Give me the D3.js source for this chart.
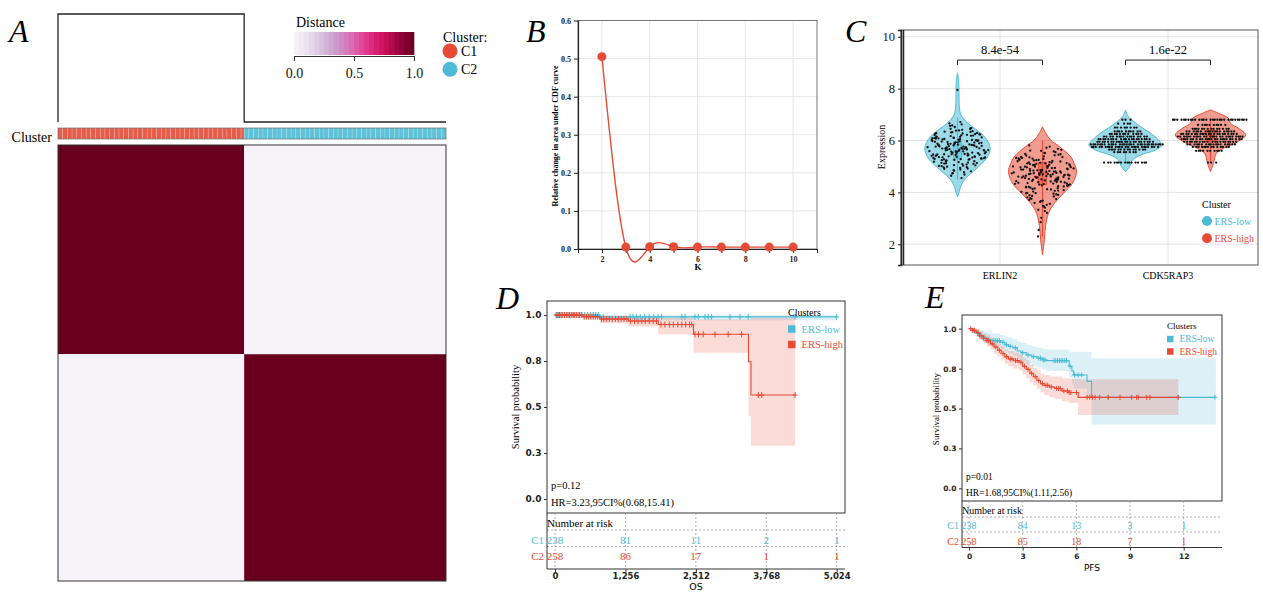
<!DOCTYPE html>
<html>
<head>
<meta charset="utf-8">
<script src="https://cdn.jsdelivr.net/npm/d3@7"></script>
<style>
  body { margin: 0; background: #fff; }
  svg { display: block; }
</style>
</head>
<body>
<svg id="fig" width="1263" height="592"></svg>
<script>
// ---- Panel A: consensus matrix ----
const clusterNames = ['C1', 'C2'];
const clusterSizes = [238, 258];
const consensusBlocks = [[1, 0], [0, 1]];
const distanceTicks = [0, 0.5, 1];

// ---- Panel B: delta area ----
const kValues = [2, 3, 4, 5, 6, 7, 8, 9, 10];
const deltaArea = [0.505, 0.005, 0.006, 0.006, 0.005, 0.005, 0.005, 0.005, 0.005];

// ---- Panel C: violins ----
const genes = ['ERLIN2', 'CDK5RAP3'];
const groups = ['ERS-low', 'ERS-high'];
const pLabels = ['8.4e-54', '1.6e-22'];

const erlinLowProfileV = [3.83, 4.0, 4.2, 4.5, 4.85, 5.1, 5.3, 5.6, 5.85, 6.1, 6.35, 6.55, 6.75, 7.0, 7.3, 7.8, 8.3, 8.61];
const erlinLowProfileW = [0, 0.04, 0.08, 0.19, 0.46, 0.65, 0.78, 0.88, 0.86, 0.76, 0.57, 0.38, 0.22, 0.09, 0.05, 0.04, 0.03, 0];
const erlinHighProfileV = [1.59, 2.17, 2.68, 3.19, 3.58, 3.97, 4.35, 4.8, 5.1, 5.38, 5.76, 6.02, 6.3, 6.53];
const erlinHighProfileW = [0, 0.05, 0.08, 0.16, 0.32, 0.57, 0.81, 0.92, 0.86, 0.76, 0.46, 0.22, 0.08, 0];
const cdkLowProfileV = [4.8, 4.99, 5.25, 5.44, 5.63, 5.83, 6.02, 6.28, 6.53, 6.92, 7.18];
const cdkLowProfileW = [0, 0.11, 0.19, 0.41, 0.81, 0.99, 0.89, 0.68, 0.41, 0.08, 0];
const cdkHighProfileV = [4.8, 5.12, 5.51, 5.7, 5.95, 6.21, 6.47, 6.66, 6.85, 7.05, 7.18];
const cdkHighProfileW = [0, 0.08, 0.16, 0.35, 0.73, 0.95, 0.76, 0.54, 0.49, 0.22, 0];

// whiskerLow, q1, median, q3, whiskerHigh
const erlinLowBox = [4.5, 5.3, 5.6, 5.95, 6.9];
const erlinHighBox = [2.3, 4.3, 4.75, 5.15, 6.0];
const cdkLowBox = [5.15, 5.7, 5.85, 6.0, 6.55];
const cdkHighBox = [5.15, 5.95, 6.2, 6.4, 6.85];

const erlin2Low = [
  5.62, 5.31, 6.05, 5.88, 4.92, 5.47, 6.21, 5.73, 5.12, 6.44, 5.56, 5.95, 4.78, 5.39, 6.12, 5.68, 5.24, 6.33, 5.81, 5.02,
  5.49, 6.58, 5.91, 5.17, 5.76, 6.02, 4.86, 5.63, 6.27, 5.35, 5.99, 5.44, 6.15, 5.07, 5.71, 6.48, 5.28, 5.84, 4.69, 5.53,
  6.09, 5.66, 5.19, 6.36, 5.93, 5.41, 4.97, 5.78, 6.24, 5.58, 5.11, 6.01, 5.86, 5.33, 6.62, 5.69, 5.04, 5.97, 5.46, 6.18,
  4.83, 5.74, 6.41, 5.27, 5.89, 5.52, 6.07, 5.15, 5.64, 6.29, 4.94, 5.82, 5.37, 6.11, 5.59, 6.71, 5.22, 5.79, 6.03, 5.43,
  4.55, 5.67, 6.23, 5.09, 5.96, 5.51, 6.38, 5.29, 5.85, 4.74, 5.61, 6.14, 5.36, 5.92, 6.52, 5.18, 5.72, 6.06, 5.45, 7.95,
  5.01, 5.83, 6.31, 5.55, 4.88, 5.77, 6.19, 5.25, 5.98, 5.42, 6.45, 5.13, 5.65, 6.08, 5.34, 5.87, 6.26, 5.48, 4.99, 5.70,
  5.58, 6.13, 5.26, 5.94, 4.81, 5.71, 6.34, 5.39, 5.05, 6.02, 5.66, 5.47, 6.25, 5.84, 4.91, 5.53, 6.17, 5.32, 5.76, 6.56,
  5.20, 5.90, 6.09, 5.44, 4.73, 5.63, 6.39, 5.14, 5.80, 5.57, 6.28, 5.03, 5.69, 6.00, 5.37, 6.66, 5.28, 5.86, 5.50, 6.20,
  4.64, 5.75, 6.10, 5.41, 5.97, 5.23, 6.47, 5.60, 4.96, 5.82, 6.32, 5.35, 5.68, 6.04, 5.10, 5.93, 5.46, 6.22, 5.73, 5.30
];
const erlin2High = [
  4.72, 4.35, 5.12, 4.88, 3.95, 4.56, 5.33, 4.61, 4.18, 5.47, 4.83, 3.78, 4.49, 5.05, 4.27, 4.95, 5.61, 4.41, 3.66, 4.77,
  5.21, 4.13, 4.68, 5.39, 3.89, 4.52, 4.99, 4.31, 5.72, 4.64, 4.07, 4.86, 5.26, 3.52, 4.44, 5.08, 4.79, 4.21, 5.55, 4.58,
  3.71, 4.93, 5.16, 4.38, 4.69, 3.98, 5.43, 4.84, 4.25, 5.02, 4.55, 3.84, 4.73, 5.31, 4.11, 4.90, 5.68, 4.46, 3.59, 4.81,
  5.24, 4.33, 4.66, 5.11, 3.92, 4.50, 5.37, 4.75, 4.15, 4.97, 3.45, 4.62, 5.19, 4.39, 5.81, 4.70, 4.03, 4.89, 5.29, 3.75,
  4.47, 5.06, 4.28, 4.82, 3.33, 4.59, 5.14, 4.37, 4.94, 2.85, 4.65, 5.51, 4.19, 4.76, 3.63, 5.00, 4.42, 5.35, 3.21, 4.87,
  2.55, 4.54, 5.23, 4.09, 4.71, 3.86, 5.45, 4.30, 2.30, 4.80, 5.09, 4.23, 3.48, 4.96, 5.58, 4.60, 4.02, 5.17, 4.36, 4.67,
  4.78, 5.27, 4.45, 3.97, 5.04, 4.63, 5.42, 4.24, 4.85, 3.81, 5.15, 4.52, 4.91, 3.68, 5.33, 4.40, 4.74, 5.64, 4.12, 4.99,
  3.56, 4.68, 5.20, 4.34, 4.83, 3.90, 5.52, 4.57, 4.06, 5.10, 4.73, 3.41, 4.96, 5.36, 4.27, 4.61, 5.76, 4.49, 3.74, 5.01,
  4.88, 4.16, 5.25, 4.43, 3.28, 4.70, 5.13, 4.32, 5.48, 4.58, 3.02, 4.92, 5.07, 4.21, 4.66, 5.60, 3.96, 4.80, 5.30, 4.53
];
const cdkLowLevels = [5.15, 5.55, 5.65, 5.75, 5.85, 5.95, 6.05, 6.15, 6.25, 6.35, 6.5, 6.65, 6.8];
const cdkLowCounts = [16, 8, 14, 26, 30, 22, 20, 16, 12, 10, 8, 4, 3];
const cdkHighLevels = [5.15, 5.6, 5.75, 5.85, 5.95, 6.05, 6.15, 6.25, 6.35, 6.45, 6.6, 6.8];
const cdkHighCounts = [3, 10, 14, 18, 20, 24, 26, 22, 18, 14, 10, 30];

// ---- Panel D: OS Kaplan-Meier ----
const osLowTime = [0, 800, 5024];
const osLowSurv = [1, 0.99, 0.99];
const osLowLower = [1, 0.972, 0.972];
const osLowUpper = [1, 1, 1];
const osLowCensor = [30, 60, 90, 130, 170, 210, 250, 290, 330, 380, 430, 480, 530, 580, 630, 680, 730, 780, 860, 1340, 1390,
  1450, 1520, 1600, 1680, 1760, 1840, 1900, 2261, 2320, 2496, 2556, 2675, 2734, 2793, 3120, 3298, 3446, 4282, 5024];
const osHighTime = [0, 500, 800, 1310, 1840, 2470, 3450, 3495, 4282];
const osHighSurv = [1, 0.991, 0.978, 0.967, 0.948, 0.895, 0.746, 0.565, 0.565];
const osHighLower = [1, 0.975, 0.955, 0.937, 0.895, 0.795, 0.45, 0.29, 0.29];
const osHighUpper = [1, 1, 0.995, 0.99, 0.985, 0.975, 0.975, 0.985, 0.985];
const osHighCensor = [20, 50, 80, 110, 140, 170, 200, 230, 260, 290, 320, 350, 380, 410, 440, 470, 520, 560, 600, 640, 680,
  720, 760, 830, 870, 920, 970, 1020, 1080, 1130, 1180, 1230, 1280, 1350, 1420, 1480, 1550, 1610, 1680, 1750, 1810, 1890,
  1960, 2040, 2110, 2190, 2261, 2330, 2400, 2439, 2496, 2560, 2643, 2853, 3089, 3327, 3627, 3687, 4282];
const osRiskTicks = [0, 1256, 2512, 3768, 5024];
const osRiskC1 = [238, 81, 11, 2, 1];
const osRiskC2 = [258, 86, 17, 1, 1];

// ---- Panel E: PFS Kaplan-Meier ----
const pfsLowTime = [0, 0.25, 0.45, 0.65, 0.85, 1.05, 1.3, 1.75, 2.0, 2.2, 2.45, 2.7, 2.9, 3.2, 3.5, 3.8, 4.1, 4.3, 5.6, 5.75, 5.85, 6.6, 6.85, 13.8];
const pfsLowSurv = [1, 0.985, 0.97, 0.955, 0.94, 0.93, 0.925, 0.915, 0.9, 0.89, 0.88, 0.86, 0.85, 0.835, 0.825, 0.815, 0.805, 0.8, 0.765, 0.735, 0.71, 0.67, 0.57, 0.57];
const pfsLowUpper = [1, 1, 0.995, 0.99, 0.98, 0.975, 0.97, 0.96, 0.95, 0.945, 0.935, 0.92, 0.91, 0.9, 0.89, 0.88, 0.875, 0.87, 0.855, 0.855, 0.855, 0.855, 0.815, 0.815];
const pfsLowLower = [1, 0.97, 0.95, 0.93, 0.91, 0.895, 0.89, 0.875, 0.86, 0.845, 0.83, 0.81, 0.795, 0.78, 0.765, 0.755, 0.745, 0.735, 0.69, 0.655, 0.625, 0.575, 0.4, 0.4];
const pfsLowCensor = [0.3, 0.5, 0.7, 0.9, 1.1, 1.4, 1.5, 1.6, 1.7, 1.9, 2.1, 2.3, 2.6, 3.0, 3.3, 3.6, 3.9, 4.0, 4.15, 4.25, 4.75,
  4.85, 4.95, 5.05, 5.15, 5.25, 5.35, 5.45, 5.65, 5.9, 6.1, 6.3, 7.78, 11.69, 13.74];
const pfsHighTime = [0, 0.2, 0.4, 0.6, 0.8, 1.0, 1.2, 1.4, 1.6, 1.8, 2.0, 2.2, 2.5, 2.8, 3.0, 3.2, 3.4, 3.6, 3.8, 4.0, 4.2, 4.5, 4.8, 5.2, 5.6, 6.1, 11.7];
const pfsHighSurv = [1, 0.99, 0.975, 0.955, 0.94, 0.925, 0.905, 0.885, 0.865, 0.845, 0.825, 0.81, 0.8, 0.79, 0.765, 0.745, 0.72, 0.7, 0.675, 0.655, 0.645, 0.635, 0.625, 0.61, 0.6, 0.57, 0.57];
const pfsHighUpper = [1, 1, 1, 0.985, 0.97, 0.96, 0.945, 0.925, 0.905, 0.89, 0.87, 0.86, 0.85, 0.84, 0.815, 0.8, 0.775, 0.755, 0.74, 0.72, 0.71, 0.7, 0.7, 0.69, 0.685, 0.683, 0.683];
const pfsHighLower = [1, 0.975, 0.955, 0.93, 0.91, 0.89, 0.87, 0.845, 0.825, 0.8, 0.78, 0.765, 0.75, 0.74, 0.715, 0.69, 0.665, 0.645, 0.62, 0.6, 0.585, 0.57, 0.56, 0.545, 0.535, 0.459, 0.459];
const pfsHighCensor = [0.1, 0.2, 0.3, 0.5, 0.6, 0.8, 1.0, 1.1, 1.3, 1.5, 1.7, 1.9, 2.1, 2.3, 2.4, 2.6, 2.7, 2.9, 3.1, 3.3, 3.5,
  3.7, 3.9, 4.1, 4.3, 4.4, 4.6, 4.9, 5.0, 5.1, 5.3, 5.5, 5.6, 5.7, 6.0, 6.6, 6.75, 6.9, 7.05, 7.3, 7.78, 8.44, 9.09, 9.37,
  9.46, 9.93, 10.11, 11.69];
const pfsRiskTicks = [0, 3, 6, 9, 12];
const pfsRiskC1 = [238, 84, 13, 3, 1];
const pfsRiskC2 = [258, 85, 18, 7, 1];

// ---------------------------------------------------------------
const RED = '#E64B35';
const BLUE = '#4DBBD5';
const SERIF = '"Liberation Serif", "Times New Roman", serif';
const DEJAVU = '"DejaVu Sans", sans-serif';

const svg = d3.select('#fig');
svg.append('rect').attr('width', 1263).attr('height', 592).attr('fill', '#fff');

// panel letters
[['A', 9, 42], ['B', 526, 42], ['C', 845, 42], ['D', 496, 309], ['E', 925, 308]].forEach(([t, x, y]) => {
  svg.append('text').attr('x', x).attr('y', y)
    .attr('font-family', SERIF).attr('font-style', 'italic').attr('font-size', 32)
    .text(t);
});

// ================= Panel A =================
(function drawA() {
  const g = svg.append('g');
  const total = d3.sum(clusterSizes);
  const offsets = [0, ...d3.cumsum(clusterSizes)];
  const x = d3.scaleLinear().domain([0, total]).range([58, 446]);
  const y = d3.scaleLinear().domain([0, total]).range([145, 581]);
  const h = d3.scaleLinear().domain([0, 1]).range([122, 14]);
  const color = d3.scaleSequential(d3.interpolatePuRd).domain([0, 1]);
  const clusterColor = d3.scaleOrdinal().domain(clusterNames).range([RED, BLUE]);

  const cells = [];
  consensusBlocks.forEach((row, i) => row.forEach((v, j) => cells.push({ i, j, v })));
  g.selectAll('rect.hm').data(cells).join('rect')
    .attr('x', d => x(offsets[d.j]))
    .attr('y', d => y(offsets[d.i]))
    .attr('width', d => x(offsets[d.j + 1]) - x(offsets[d.j]))
    .attr('height', d => y(offsets[d.i + 1]) - y(offsets[d.i]))
    .attr('fill', d => color(d.v));
  g.append('rect').attr('x', 58).attr('y', 145).attr('width', 388).attr('height', 436)
    .attr('fill', 'none').attr('stroke', '#333').attr('stroke-width', 1);

  // annotation bar
  const step = 6;
  const bar = [];
  clusterNames.forEach((c, k) => {
    d3.range(offsets[k], offsets[k + 1], step).forEach(s => bar.push({ c, s, e: Math.min(s + step, offsets[k + 1]) }));
  });
  g.selectAll('rect.ann').data(bar).join('rect')
    .attr('x', d => x(d.s)).attr('y', 128)
    .attr('width', d => x(d.e) - x(d.s)).attr('height', 11)
    .attr('fill', d => clusterColor(d.c))
    .attr('fill-opacity', 0.9)
    .attr('stroke', 'rgba(255,255,255,0.3)').attr('stroke-width', 0.6);
  g.append('rect').attr('x', 58).attr('y', 128).attr('width', 388).attr('height', 11)
    .attr('fill', 'none').attr('stroke', '#555').attr('stroke-width', 0.6);
  g.append('text').attr('x', 52).attr('y', 142).attr('text-anchor', 'end')
    .attr('font-family', SERIF).attr('font-size', 14).text('Cluster');

  // dendrogram
  g.append('path')
    .attr('d', `M${x(0)},${h(0)}V${h(1)}H${x(clusterSizes[0])}V${h(0)}H${x(total)}`)
    .attr('fill', 'none').attr('stroke', '#222').attr('stroke-width', 1.3);

  // distance legend
  const lx = d3.scaleLinear().domain([0, 1]).range([294, 414]);
  const nSteps = 24;
  g.selectAll('rect.leg').data(d3.range(nSteps)).join('rect')
    .attr('x', i => lx(i / nSteps)).attr('y', 32)
    .attr('width', lx(1 / nSteps) - lx(0) + 0.3).attr('height', 23)
    .attr('fill', i => color((i + 0.5) / nSteps));
  g.append('text').attr('x', 296).attr('y', 27).attr('font-family', SERIF).attr('font-size', 14).text('Distance');
  const ax = g.append('g').attr('transform', 'translate(0,56)')
    .call(d3.axisBottom(lx).tickValues(distanceTicks).tickFormat(d3.format('.1f')).tickSize(5).tickSizeOuter(0));
  ax.select('.domain').attr('stroke', '#333');
  ax.selectAll('line').attr('stroke', '#333');
  ax.selectAll('text').attr('font-family', SERIF).attr('font-size', 14).attr('fill', '#111').attr('dy', '1em');

  // cluster legend
  g.append('text').attr('x', 443).attr('y', 42).attr('font-family', SERIF).attr('font-size', 14).text('Cluster:');
  clusterNames.forEach((c, k) => {
    const cy = 51 + k * 18.3;
    g.append('circle').attr('cx', 450).attr('cy', cy).attr('r', 7.5).attr('fill', clusterColor(c));
    g.append('text').attr('x', 461).attr('y', cy + 5).attr('font-family', SERIF).attr('font-size', 14).text(c);
  });
})();

// ================= Panel B =================
(function drawB() {
  const g = svg.append('g');
  const x = d3.scaleLinear().domain([1, 11]).range([578, 817]);
  const y = d3.scaleLinear().domain([0, 0.6]).range([249, 20.5]);

  g.selectAll('line.gx').data([2, 4, 6, 8, 10]).join('line')
    .attr('x1', d => x(d)).attr('x2', d => x(d)).attr('y1', 20.5).attr('y2', 249)
    .attr('stroke', '#e6e6e6');
  g.selectAll('line.gy').data([0.1, 0.2, 0.3, 0.4, 0.5]).join('line')
    .attr('x1', 578).attr('x2', 817).attr('y1', d => y(d)).attr('y2', d => y(d))
    .attr('stroke', '#e6e6e6');
  g.append('rect').attr('x', 578).attr('y', 20.5).attr('width', 239).attr('height', 228.5)
    .attr('fill', 'none').attr('stroke', '#555').attr('stroke-width', 0.8);

  const xa = g.append('g').attr('transform', 'translate(0,249)')
    .call(d3.axisBottom(x).tickValues(d3.range(1, 12)).tickFormat(d => d % 2 === 0 ? d : '').tickSize(4).tickSizeOuter(0));
  const ya = g.append('g').attr('transform', 'translate(578,0)')
    .call(d3.axisLeft(y).ticks(6).tickFormat(d3.format('.1f')).tickSize(4).tickSizeOuter(0));
  [xa, ya].forEach(a => {
    a.select('.domain').attr('stroke', '#222').attr('stroke-width', 1.2);
    a.selectAll('line').attr('stroke', '#222');
    a.selectAll('text').attr('font-family', SERIF).attr('font-weight', 'bold').attr('font-size', 8).attr('fill', '#222');
  });

  const pts = kValues.map((k, i) => ({ k, v: deltaArea[i] }));
  g.append('path').datum(pts)
    .attr('d', d3.line().x(d => x(d.k)).y(d => y(d.v)).curve(d3.curveNatural))
    .attr('fill', 'none').attr('stroke', RED).attr('stroke-width', 1.4);
  g.selectAll('circle').data(pts).join('circle')
    .attr('cx', d => x(d.k)).attr('cy', d => y(d.v)).attr('r', 4.5).attr('fill', RED);

  g.append('text').attr('x', 698).attr('y', 270).attr('text-anchor', 'middle')
    .attr('font-family', SERIF).attr('font-weight', 'bold').attr('font-size', 9).text('K');
  g.append('text').attr('transform', 'translate(558,136) rotate(-90)').attr('text-anchor', 'middle')
    .attr('font-family', SERIF).attr('font-weight', 'bold').attr('font-size', 8)
    .text('Relative change in area under CDF curve');
})();

// ================= Panel C =================
(function drawC() {
  const g = svg.append('g');
  const xg = d3.scaleBand().domain(genes).range([916, 1252]);
  const xs = d3.scaleBand().domain(groups).range([-85, 85]);
  const y = d3.scaleLinear().domain([1.2, 10.26]).range([265, 30]);
  const col = d3.scaleOrdinal().domain(groups).range([BLUE, RED]);
  const halfW = 37;
  const cx = (gene, grp) => xg(gene) + xg.bandwidth() / 2 + xs(grp) + xs.bandwidth() / 2;

  g.selectAll('line.gy').data([2, 4, 6, 8, 10]).join('line')
    .attr('x1', 901).attr('x2', 1258).attr('y1', d => y(d)).attr('y2', d => y(d)).attr('stroke', '#e4e4e4');
  g.selectAll('line.gx').data(genes).join('line')
    .attr('x1', d => xg(d) + xg.bandwidth() / 2).attr('x2', d => xg(d) + xg.bandwidth() / 2)
    .attr('y1', 30).attr('y2', 265).attr('stroke', '#e4e4e4');

  const violins = [
    { gene: 'ERLIN2', grp: 'ERS-low', pv: erlinLowProfileV, pw: erlinLowProfileW, box: erlinLowBox, dots: erlin2Low.map(v => ({ v, n: 0 })) },
    { gene: 'ERLIN2', grp: 'ERS-high', pv: erlinHighProfileV, pw: erlinHighProfileW, box: erlinHighBox, dots: erlin2High.map(v => ({ v, n: 0 })) },
    { gene: 'CDK5RAP3', grp: 'ERS-low', pv: cdkLowProfileV, pw: cdkLowProfileW, box: cdkLowBox,
      dots: cdkLowLevels.flatMap((v, i) => d3.range(cdkLowCounts[i]).map(() => ({ v, n: cdkLowCounts[i] }))) },
    { gene: 'CDK5RAP3', grp: 'ERS-high', pv: cdkHighProfileV, pw: cdkHighProfileW, box: cdkHighBox,
      dots: cdkHighLevels.flatMap((v, i) => d3.range(cdkHighCounts[i]).map(() => ({ v, n: cdkHighCounts[i] }))) }
  ];

  violins.forEach(vl => {
    const c = cx(vl.gene, vl.grp);
    const prof = vl.pv.map((v, i) => ({ v, w: vl.pw[i] }));
    g.append('path').datum(prof)
      .attr('d', d3.area().y(d => y(d.v)).x0(d => c - d.w * halfW).x1(d => c + d.w * halfW).curve(d3.curveCatmullRom))
      .attr('fill', col(vl.grp)).attr('fill-opacity', 0.55)
      .attr('stroke', col(vl.grp)).attr('stroke-width', 1);

    const [lo, q1, med, q3, hi] = vl.box;
    g.append('line').attr('x1', c).attr('x2', c).attr('y1', y(lo)).attr('y2', y(hi))
      .attr('stroke', col(vl.grp)).attr('stroke-width', 1.2);
    g.append('rect').attr('x', c - 4).attr('y', y(q3)).attr('width', 8).attr('height', y(q1) - y(q3))
      .attr('fill', col(vl.grp)).attr('fill-opacity', 0.5).attr('stroke', col(vl.grp)).attr('stroke-width', 1);
    g.append('line').attr('x1', c - 4).attr('x2', c + 4).attr('y1', y(med)).attr('y2', y(med))
      .attr('stroke', col(vl.grp)).attr('stroke-width', 1.2);

    const widthAt = d3.scaleLinear().domain(vl.pv).range(vl.pw).clamp(true);
    g.selectAll(null).data(vl.dots).join('circle')
      .attr('cx', (d, i) => {
        const spread = d.n ? Math.min(38, 3 + d.n * 1.2) : Math.max(5, widthAt(d.v) * halfW * 0.95);
        const j = ((i * 0.6180339887 + 0.31) % 1) * 2 - 1;
        return c + j * spread;
      })
      .attr('cy', d => y(d.v))
      .attr('r', 1.15).attr('fill', '#111');
  });

  // significance brackets
  genes.forEach((gene, i) => {
    const x1 = cx(gene, groups[0]), x2 = cx(gene, groups[1]);
    const yb = y(9.1);
    g.append('path').attr('d', `M${x1},${yb + 5}V${yb}H${x2}V${yb + 5}`)
      .attr('fill', 'none').attr('stroke', '#222').attr('stroke-width', 1);
    g.append('text').attr('x', (x1 + x2) / 2).attr('y', yb - 6).attr('text-anchor', 'middle')
      .attr('font-family', SERIF).attr('font-size', 12.5).text(pLabels[i]);
  });

  g.append('rect').attr('x', 901).attr('y', 30).attr('width', 357).attr('height', 235)
    .attr('fill', 'none').attr('stroke', '#555').attr('stroke-width', 1);
  g.append('line').attr('x1', 903.5).attr('x2', 903.5).attr('y1', 30).attr('y2', 265)
    .attr('stroke', '#222').attr('stroke-width', 1.5);
  const ya = g.append('g').attr('transform', 'translate(901,0)')
    .call(d3.axisLeft(y).tickValues([2, 4, 6, 8, 10]).tickSize(3).tickPadding(3));
  ya.select('.domain').attr('stroke', '#222').attr('stroke-width', 1.5);
  ya.selectAll('line').attr('stroke', '#222');
  ya.selectAll('text').attr('font-family', SERIF).attr('font-size', 12.5).attr('fill', '#111');

  genes.forEach(gene => {
    g.append('text').attr('x', xg(gene) + xg.bandwidth() / 2).attr('y', 279).attr('text-anchor', 'middle')
      .attr('font-family', SERIF).attr('font-size', 10).text(gene);
  });
  g.append('text').attr('transform', 'translate(885,147) rotate(-90)').attr('text-anchor', 'middle')
    .attr('font-family', SERIF).attr('font-size', 10).text('Expression');

  g.append('text').attr('x', 1202).attr('y', 208).attr('font-family', SERIF).attr('font-size', 10).text('Cluster');
  groups.forEach((grp, k) => {
    const cy = 221 + k * 17.3;
    g.append('circle').attr('cx', 1207).attr('cy', cy).attr('r', 5).attr('fill', col(grp));
    g.append('text').attr('x', 1214.5).attr('y', cy + 3.8).attr('font-family', SERIF).attr('font-size', 10)
      .attr('fill', col(grp)).text(grp);
  });
})();

// ================= Panels D and E =================
function drawKM(c) {
  const g = svg.append('g');
  const [bx0, by0, bx1, by1] = c.box;
  const x = d3.scaleLinear().domain(c.xDomain).range(c.xRange);
  const y = d3.scaleLinear().domain([0, 1]).range(c.yRange);

  c.series.forEach(s => {
    const pts = s.time.map((t, i) => ({ t, lo: s.lower[i], hi: s.upper[i] }));
    g.append('path').datum(pts)
      .attr('d', d3.area().x(d => x(d.t)).y0(d => y(d.lo)).y1(d => y(d.hi)).curve(d3.curveStepAfter))
      .attr('fill', s.color).attr('fill-opacity', 0.2);
  });
  c.series.forEach(s => {
    const pts = s.time.map((t, i) => ({ t, v: s.surv[i] }));
    g.append('path').datum(pts)
      .attr('d', d3.line().x(d => x(d.t)).y(d => y(d.v)).curve(d3.curveStepAfter))
      .attr('fill', 'none').attr('stroke', s.color).attr('stroke-width', 1.1);
    const survAt = t => s.surv[Math.max(0, d3.bisectRight(s.time, t) - 1)];
    g.selectAll(null).data(s.censor).join('path')
      .attr('d', t => {
        const px = x(t), py = y(survAt(t));
        return `M${px},${py - c.mark}V${py + c.mark}M${px - 2.5},${py}H${px + 2.5}`;
      })
      .attr('stroke', s.color).attr('stroke-width', 1);
  });

  g.append('rect').attr('x', bx0).attr('y', by0).attr('width', bx1 - bx0).attr('height', by1 - by0)
    .attr('fill', 'none').attr('stroke', '#333').attr('stroke-width', 1);
  const ya = g.append('g').attr('transform', `translate(${bx0},0)`)
    .call(d3.axisLeft(y).tickValues([0, 0.25, 0.5, 0.75, 1]).tickFormat(d3.format('.1f')).tickSize(3).tickPadding(2.5).tickSizeOuter(0));
  ya.select('.domain').remove();
  ya.selectAll('line').attr('stroke', '#333');
  ya.selectAll('text').attr('font-family', DEJAVU).attr('font-weight', 'bold').attr('font-size', c.tickFont).attr('fill', '#222');
  g.append('text').attr('transform', `translate(${c.yLabel[0]},${c.yLabel[1]}) rotate(-90)`).attr('text-anchor', 'middle')
    .attr('font-family', SERIF).attr('font-size', c.yLabelFont).text('Survival probability');

  // legend
  g.append('text').attr('x', c.legend[0]).attr('y', c.legend[1]).attr('font-family', SERIF)
    .attr('font-size', c.legendFont).text('Clusters');
  c.series.forEach((s, k) => {
    const cy = c.legend[1] + c.legendGap * (k + 1) - 2;
    g.append('rect').attr('x', c.legend[0]).attr('y', cy - c.sq / 2).attr('width', c.sq).attr('height', c.sq).attr('fill', s.color);
    g.append('text').attr('x', c.legend[0] + c.sq + 6).attr('y', cy + c.legendFont * 0.35)
      .attr('font-family', SERIF).attr('font-size', c.legendFont + 0.5).attr('fill', s.color).text(s.name);
  });

  // stats
  g.append('text').attr('x', bx0 + 4).attr('y', c.statY[0]).attr('font-family', SERIF).attr('font-size', c.statFont).text(c.pText);
  g.append('text').attr('x', bx0 + 4).attr('y', c.statY[1]).attr('font-family', SERIF).attr('font-size', c.statFont).text(c.hrText);

  // risk table
  g.selectAll('line.vd').data(c.riskTicks).join('line')
    .attr('x1', d => x(d)).attr('x2', d => x(d)).attr('y1', by1).attr('y2', c.axisY)
    .attr('stroke', '#999').attr('stroke-dasharray', '2,2').attr('stroke-width', 0.8);
  c.sepY.forEach(sy => {
    g.append('line').attr('x1', bx0).attr('x2', bx1).attr('y1', sy).attr('y2', sy)
      .attr('stroke', '#999').attr('stroke-dasharray', '2,2').attr('stroke-width', 0.8);
  });
  g.append('line').attr('x1', bx0).attr('x2', bx0).attr('y1', by1).attr('y2', c.axisY).attr('stroke', '#333');
  g.append('text').attr('x', bx0).attr('y', c.riskTitleY).attr('font-family', SERIF).attr('font-size', c.riskFont).text('Number at risk');
  c.risk.forEach((row, k) => {
    g.append('text').attr('x', bx0 - 3).attr('y', c.rowY[k]).attr('text-anchor', 'end')
      .attr('font-family', SERIF).attr('font-size', c.riskFont).attr('fill', row.color).text(row.name);
    g.selectAll(null).data(row.values).join('text')
      .attr('x', (d, i) => x(c.riskTicks[i])).attr('y', c.rowY[k]).attr('text-anchor', 'middle')
      .attr('font-family', SERIF).attr('font-size', c.riskFont).attr('fill', row.color).text(d => d);
  });

  const xa = g.append('g').attr('transform', `translate(0,${c.axisY})`)
    .call(d3.axisBottom(x).tickValues(c.riskTicks).tickFormat(c.tickFormat).tickSize(3).tickPadding(c.xPad).tickSizeOuter(0));
  xa.select('.domain').remove();
  xa.selectAll('line').attr('stroke', '#333');
  xa.selectAll('text').attr('font-family', DEJAVU).attr('font-weight', 'bold').attr('font-size', c.xTickFont).attr('fill', '#222');
  g.append('line').attr('x1', bx0).attr('x2', bx1).attr('y1', c.axisY).attr('y2', c.axisY).attr('stroke', '#333');
  g.append('text').attr('x', (bx0 + bx1) / 2).attr('y', c.xLabelY).attr('text-anchor', 'middle')
    .attr('font-family', DEJAVU).attr('font-size', c.xLabelFont).text(c.xLabel);
}

drawKM({
  box: [547, 301, 845, 513],
  xDomain: [0, 5024], xRange: [555, 836.7], yRange: [499, 315],
  series: [
    { name: 'ERS-low', color: BLUE, time: osLowTime, surv: osLowSurv, lower: osLowLower, upper: osLowUpper, censor: osLowCensor },
    { name: 'ERS-high', color: RED, time: osHighTime, surv: osHighSurv, lower: osHighLower, upper: osHighUpper, censor: osHighCensor }
  ],
  mark: 3, tickFont: 9, xTickFont: 8.5, yLabel: [519, 407], yLabelFont: 10.5,
  legend: [788, 315.5], legendGap: 15.5, legendFont: 10, sq: 7.5,
  statY: [489, 505.5], statFont: 10.5, pText: 'p=0.12', hrText: 'HR=3.23,95CI%(0.68,15.41)',
  riskTicks: osRiskTicks, tickFormat: d3.format(','),
  risk: [{ name: 'C1', color: BLUE, values: osRiskC1 }, { name: 'C2', color: RED, values: osRiskC2 }],
  sepY: [530, 546.5], riskTitleY: 527, rowY: [544, 560], riskFont: 11,
  axisY: 569, xPad: 0.5, xLabelY: 589.8, xLabelFont: 9.5, xLabel: 'OS'
});

drawKM({
  box: [962, 315, 1222, 501],
  xDomain: [0, 12], xRange: [969, 1183.7], yRange: [488.3, 328.7],
  series: [
    { name: 'ERS-low', color: BLUE, time: pfsLowTime, surv: pfsLowSurv, lower: pfsLowLower, upper: pfsLowUpper, censor: pfsLowCensor },
    { name: 'ERS-high', color: RED, time: pfsHighTime, surv: pfsHighSurv, lower: pfsHighLower, upper: pfsHighUpper, censor: pfsHighCensor }
  ],
  mark: 2.5, tickFont: 7.5, xTickFont: 7.5, yLabel: [939, 409], yLabelFont: 9,
  legend: [1167, 328.5], legendGap: 12.5, legendFont: 9, sq: 6.5,
  statY: [479.5, 496], statFont: 9.5, pText: 'p=0.01', hrText: 'HR=1.68,95CI%(1.11,2.56)',
  riskTicks: pfsRiskTicks, tickFormat: d3.format('d'),
  risk: [{ name: 'C1', color: BLUE, values: pfsRiskC1 }, { name: 'C2', color: RED, values: pfsRiskC2 }],
  sepY: [517, 532], riskTitleY: 514, rowY: [529, 544.5], riskFont: 10,
  axisY: 547.5, xPad: 3, xLabelY: 571, xLabelFont: 9, xLabel: 'PFS'
});
</script>
</body>
</html>
